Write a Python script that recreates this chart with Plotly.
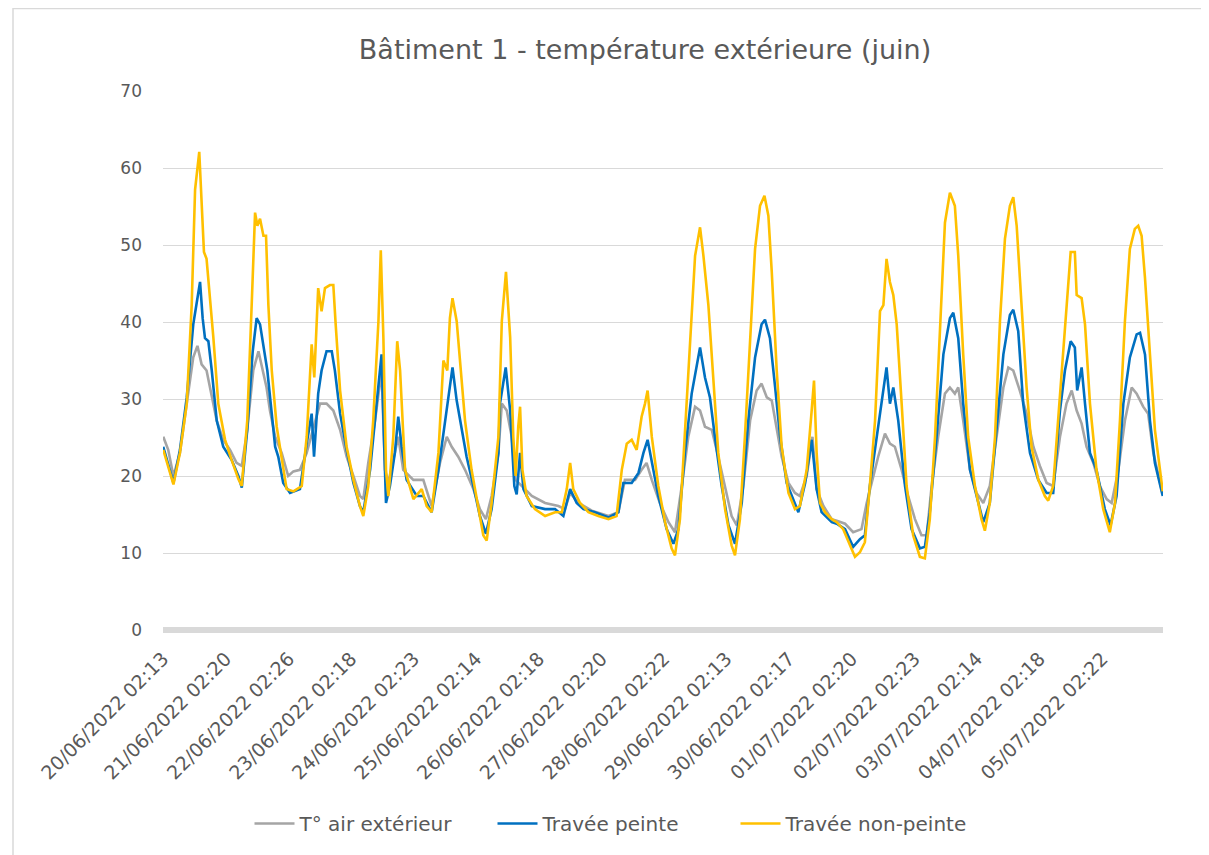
import plotly.graph_objects as go
import pandas as pd

START = "2022-06-20 02:13"

# Hours since start / temperatures
air_h = [0.1, 2.0, 4.0, 6.5, 9.1, 11.6, 13.2, 14.8, 16.7, 18.7, 20.6, 23.1, 25.7, 28.2, 30.2, 32.3, 34.6, 36.6, 37.8, 39.7,
         41.0, 43.0, 45.5, 48.0, 50.0, 52.5, 55.1, 58.3, 60.2, 62.7, 65.3, 67.9, 70.4, 73.0, 75.5, 76.8, 78.7, 81.3, 83.8, 85.1,
         86.4, 90.2, 92.1, 96.0, 99.8, 103.0, 106.2, 108.8, 110.7, 113.2, 115.8, 119.0, 121.5, 123.8, 126.0, 128.6, 129.9, 131.8, 133.7, 135.2,
         137.5, 141.4, 146.5, 151.6, 154.1, 156.1, 159.3, 164.4, 170.8, 174.6, 177.1, 181.0, 183.5, 185.4, 187.4, 190.5, 193.8, 196.3, 198.9, 201.4,
         204.0, 205.9, 207.8, 210.4, 212.9, 215.5, 218.0, 220.0, 222.5, 225.1, 227.6, 229.5, 231.5, 233.4, 235.3, 237.2, 239.8, 242.3, 244.2, 246.8,
         249.0, 250.6, 253.2, 256.4, 258.3, 261.5, 264.6, 267.8, 269.8, 271.7, 274.2, 276.8, 278.7, 280.6, 283.2, 285.7, 288.3, 290.8, 292.8, 294.7,
         297.2, 299.8, 301.7, 303.6, 304.9, 306.8, 309.4, 311.9, 314.5, 317.0, 319.6, 322.2, 324.1, 326.0, 328.5, 331.1, 333.7, 336.2, 338.8, 341.3,
         343.9, 346.4, 348.4, 350.3, 352.2, 354.1, 356.7, 359.2, 361.8, 363.7, 366.3, 368.8, 371.4, 373.3, 375.8, 377.7, 379.7, 383.3]
air_v = [25.1, 23.4, 20.0, 23.0, 29.4, 35.4, 36.9, 34.5, 33.7, 30.2, 27.2, 24.7, 23.4, 21.7, 21.3, 26.0, 33.7, 36.2, 34.5, 31.5,
         28.5, 25.1, 23.0, 20.0, 20.6, 20.8, 23.0, 27.2, 29.4, 29.4, 28.5, 26.0, 22.5, 20.0, 17.4, 17.0, 21.7, 27.2, 33.7, 20.8,
         19.1, 25.1, 20.8, 19.5, 19.5, 16.1, 21.7, 25.1, 23.8, 22.5, 20.8, 18.3, 15.7, 14.4, 17.4, 23.0, 29.4, 28.5, 25.1, 19.5,
         18.7, 17.4, 16.5, 16.1, 15.7, 17.8, 16.5, 15.5, 14.8, 15.3, 19.5, 19.5, 20.8, 21.7, 19.5, 16.5, 14.0, 12.7, 18.7, 25.1,
         29.0, 28.5, 26.4, 26.0, 22.5, 18.7, 14.8, 13.6, 18.7, 27.2, 31.1, 32.0, 30.2, 29.8, 26.0, 22.5, 19.1, 17.8, 17.4, 20.0,
         25.1, 18.3, 16.1, 14.4, 14.2, 13.8, 12.7, 13.1, 16.5, 19.1, 22.5, 25.5, 24.2, 23.8, 20.8, 17.4, 14.4, 12.3, 12.3, 18.7,
         25.1, 30.7, 31.5, 30.7, 31.5, 27.2, 20.8, 17.8, 16.5, 18.7, 25.1, 31.5, 34.1, 33.7, 31.1, 28.1, 23.8, 21.3, 19.1, 18.7,
         25.1, 29.4, 31.1, 28.5, 26.8, 23.8, 21.7, 18.7, 17.0, 16.5, 20.8, 27.2, 31.5, 30.7, 29.0, 28.1, 23.0, 17.6]

peinte_h = [0.1, 4.0, 6.5, 9.1, 11.6, 13.2, 14.2, 15.2, 16.1, 17.4, 18.7, 20.6, 23.1, 26.3, 28.9, 30.2, 32.3, 34.4, 35.9, 37.2,
            38.5, 40.0, 41.7, 43.0, 44.2, 46.1, 48.7, 52.5, 55.1, 57.0, 57.9, 59.5, 60.8, 62.7, 64.7, 65.9, 67.9, 70.4, 73.0, 75.5,
            76.8, 79.4, 81.9, 83.8, 84.7, 85.5, 87.0, 88.9, 90.2, 91.5, 93.4, 97.3, 99.8, 103.0, 105.6, 108.1, 109.8, 111.0, 112.6, 114.5,
            116.4, 119.0, 121.5, 123.8, 126.0, 128.6, 129.2, 131.4, 133.1, 134.7, 135.6, 136.9, 138.2, 141.4, 146.5, 150.3, 153.5, 156.1, 158.6, 161.2,
            165.6, 170.8, 174.6, 176.5, 179.7, 182.3, 184.2, 185.8, 187.4, 189.9, 193.1, 195.7, 197.6, 200.1, 202.7, 205.9, 207.8, 209.7, 211.6, 214.2,
            216.8, 219.3, 221.9, 224.4, 227.0, 229.5, 230.8, 232.7, 234.7, 236.6, 239.1, 241.7, 243.6, 246.2, 248.7, 250.6, 252.5, 256.4, 258.3, 261.5,
            264.6, 267.2, 269.1, 271.0, 273.6, 275.5, 277.4, 278.7, 280.0, 281.9, 284.5, 287.0, 290.2, 292.1, 294.0, 296.6, 299.2, 301.7, 303.0, 304.9,
            306.8, 309.4, 311.9, 314.5, 317.0, 319.6, 322.2, 324.7, 326.0, 327.9, 329.8, 332.4, 335.6, 338.8, 341.3, 343.9, 345.8, 348.0, 349.6, 350.5,
            352.2, 353.5, 355.4, 357.9, 361.1, 363.3, 365.6, 368.2, 370.7, 373.3, 374.6, 376.5, 378.4, 380.3, 383.3]
peinte_v = [23.8, 19.1, 23.4, 30.2, 39.7, 43.5, 45.2, 40.5, 37.9, 37.5, 33.7, 27.2, 23.8, 22.1, 20.0, 18.5, 26.0, 36.2, 40.5, 39.7,
            37.1, 33.7, 28.1, 23.8, 22.5, 19.1, 17.8, 18.3, 24.2, 28.1, 22.5, 30.7, 33.7, 36.2, 36.2, 33.7, 28.1, 23.4, 19.1, 16.1,
            15.3, 20.8, 29.4, 35.8, 25.1, 16.5, 18.7, 23.0, 27.7, 23.8, 19.5, 17.4, 17.4, 15.3, 20.8, 27.2, 31.5, 34.1, 29.8, 26.4,
            22.5, 18.7, 14.8, 12.5, 15.7, 23.0, 29.4, 34.1, 28.5, 18.7, 17.6, 23.0, 18.3, 16.1, 15.7, 15.7, 14.8, 18.3, 16.5, 15.7,
            15.3, 14.6, 15.3, 19.1, 19.1, 20.4, 23.0, 24.7, 21.7, 17.4, 13.1, 11.2, 13.1, 23.0, 30.7, 36.7, 32.8, 30.2, 25.1, 18.7,
            13.6, 11.2, 16.5, 27.2, 35.4, 39.7, 40.3, 37.9, 31.5, 25.1, 19.1, 17.0, 15.3, 19.1, 24.7, 18.3, 15.3, 14.0, 13.8, 13.1,
            10.8, 11.8, 12.3, 18.7, 25.1, 29.8, 34.1, 29.4, 31.5, 27.2, 18.7, 13.1, 10.6, 10.8, 15.3, 25.1, 35.8, 40.5, 41.2, 37.9,
            29.4, 20.8, 17.4, 14.0, 16.5, 26.0, 35.8, 40.9, 41.6, 38.8, 29.4, 23.0, 19.5, 17.8, 17.8, 28.5, 33.7, 37.5, 36.7, 31.1,
            34.1, 29.4, 23.0, 20.8, 15.7, 13.6, 17.4, 29.4, 35.4, 38.4, 38.6, 35.8, 27.2, 21.7, 17.4]

nonpeinte_h = [0.1, 4.0, 6.5, 9.1, 11.0, 12.3, 13.9, 14.8, 15.7, 16.7, 18.0, 19.3, 21.2, 23.8, 26.3, 28.9, 30.2, 32.3, 34.0, 35.3,
               36.2, 37.2, 38.5, 39.5, 40.4, 41.7, 43.6, 45.5, 47.4, 50.0, 53.2, 55.1, 57.0, 58.0, 59.5, 60.8, 62.1, 64.0, 65.3, 66.2,
               67.9, 70.4, 73.0, 75.5, 76.8, 78.7, 80.6, 82.6, 83.5, 84.5, 85.5, 86.4, 88.3, 89.8, 90.9, 92.8, 96.0, 99.2, 101.1, 103.0,
               105.6, 107.5, 109.0, 110.0, 111.0, 112.6, 113.9, 115.8, 118.3, 120.9, 122.8, 124.1, 126.0, 128.6, 129.9, 131.5, 133.1, 134.3, 135.2, 136.2,
               136.9, 137.8, 139.4, 142.6, 146.5, 150.3, 152.9, 154.8, 156.1, 157.3, 159.9, 163.1, 166.9, 170.8, 173.9, 175.9, 177.8, 179.7, 181.6, 183.5,
               184.8, 185.8, 187.4, 189.9, 192.5, 195.0, 196.3, 198.2, 200.1, 202.1, 204.0, 205.9, 207.2, 209.1, 211.0, 212.9, 215.5, 218.0, 219.3, 221.2,
               223.1, 225.1, 227.0, 228.9, 230.6, 232.1, 233.4, 235.3, 237.2, 239.8, 242.3, 244.2, 246.8, 248.7, 249.6, 250.6, 251.9, 253.8, 256.4, 258.3,
               260.8, 263.4, 265.3, 267.2, 269.1, 271.0, 273.0, 274.9, 276.2, 277.4, 278.7, 280.0, 281.3, 283.2, 285.1, 287.6, 290.2, 292.1, 294.0, 296.0,
               297.9, 299.8, 301.7, 303.6, 304.9, 306.8, 308.7, 311.3, 313.8, 315.1, 317.0, 319.0, 320.9, 322.8, 324.7, 326.0, 327.3, 329.2, 331.1, 333.0,
               335.6, 338.1, 339.4, 341.3, 343.2, 345.2, 347.1, 348.0, 349.6, 350.3, 352.2, 353.5, 355.4, 357.9, 360.5, 363.0, 365.0, 366.9, 368.8, 370.7,
               372.6, 373.9, 375.2, 376.5, 378.4, 380.3, 383.3]
nonpeinte_v = [23.4, 18.9, 23.0, 29.4, 42.2, 57.2, 62.1, 55.1, 49.1, 48.2, 43.5, 38.0, 29.4, 24.7, 22.1, 19.6, 18.7, 27.2, 42.2, 54.2,
               52.5, 53.4, 51.2, 51.2, 42.2, 33.7, 26.4, 22.5, 18.3, 18.0, 18.7, 25.1, 37.1, 32.8, 44.4, 41.4, 44.4, 44.8, 44.8, 39.7,
               31.1, 23.8, 19.5, 16.1, 14.8, 18.7, 27.2, 40.1, 49.3, 37.9, 20.8, 17.4, 25.1, 37.5, 33.7, 20.8, 17.0, 18.3, 16.1, 15.3,
               23.0, 35.0, 33.7, 40.5, 43.1, 40.1, 34.5, 27.2, 20.8, 15.7, 12.3, 11.6, 16.5, 25.1, 40.1, 46.5, 38.0, 25.1, 20.0, 26.4,
               29.0, 20.8, 17.4, 15.7, 14.8, 15.3, 15.3, 18.3, 21.7, 18.3, 16.5, 15.3, 14.8, 14.4, 14.8, 20.8, 24.2, 24.7, 23.4, 27.7,
               29.4, 31.1, 25.1, 18.7, 14.0, 10.6, 9.7, 14.4, 25.1, 37.9, 48.6, 52.3, 48.6, 42.2, 32.8, 23.0, 15.7, 11.0, 9.7, 14.4,
               25.1, 37.9, 49.5, 55.1, 56.4, 53.8, 46.5, 33.7, 23.8, 17.8, 15.7, 16.1, 20.8, 28.5, 32.4, 23.0, 16.5, 15.3, 14.4, 14.0,
               13.1, 11.0, 9.5, 10.1, 11.4, 18.7, 27.2, 41.4, 42.2, 48.2, 45.2, 43.5, 39.7, 29.4, 18.7, 12.3, 9.5, 9.3, 14.4, 25.1,
               40.1, 52.9, 56.8, 55.1, 48.6, 35.8, 25.1, 18.7, 14.4, 12.9, 16.5, 25.1, 40.1, 50.8, 55.1, 56.2, 52.5, 42.2, 31.5, 23.8,
               19.5, 17.4, 16.8, 18.7, 27.2, 35.8, 44.4, 49.1, 49.1, 43.5, 43.1, 39.7, 29.4, 20.8, 15.7, 12.7, 16.5, 27.2, 40.1, 49.5,
               52.1, 52.5, 51.2, 45.7, 35.8, 26.0, 18.0]

tick_labels = ["20/06/2022 02:13", "21/06/2022 02:20", "22/06/2022 02:26", "23/06/2022 02:18",
               "24/06/2022 02:23", "25/06/2022 02:14", "26/06/2022 02:18", "27/06/2022 02:20",
               "28/06/2022 02:22", "29/06/2022 02:13", "30/06/2022 02:17", "01/07/2022 02:20",
               "02/07/2022 02:23", "03/07/2022 02:14", "04/07/2022 02:18", "05/07/2022 02:22"]

start = pd.Timestamp(START)
def to_time(hours):
    return start + pd.to_timedelta(hours, unit="h")

tick_vals = [pd.to_datetime(t, format="%d/%m/%Y %H:%M") for t in tick_labels]

FONT = "DejaVu Sans"
TXT = "#595959"

# page body has an 8px margin: figure is sized so the plot lands where the reference has it
W, H = 1201, 847
ML, MR, MT, MB = 155, 46, 83, 221
PW, PH = W - ML - MR, H - MT - MB

fig = go.Figure()
fig.add_trace(go.Scatter(x=to_time(air_h), y=air_v, mode="lines", name="T° air extérieur",
                         line=dict(color="#A5A5A5", width=2.6)))
fig.add_trace(go.Scatter(x=to_time(peinte_h), y=peinte_v, mode="lines", name="Travée peinte",
                         line=dict(color="#0070C0", width=2.6)))
fig.add_trace(go.Scatter(x=to_time(nonpeinte_h), y=nonpeinte_v, mode="lines", name="Travée non-peinte",
                         line=dict(color="#FFC000", width=2.6)))

fig.update_layout(
    width=W, height=H, autosize=False,
    margin=dict(l=ML, r=MR, t=MT, b=MB),
    paper_bgcolor="white", plot_bgcolor="white",
    font=dict(family=FONT, color=TXT),
    title=dict(text="Bâtiment 1 - température extérieure (juin)", x=637/W, xanchor="center",
               y=1 - 42/H, yanchor="middle", font=dict(size=27, color=TXT, family=FONT)),
    legend=dict(orientation="h", x=(606 - ML) / PW, xanchor="center", y=-(821 - MT - PH) / PH,
                yanchor="middle", font=dict(size=20, color=TXT), itemwidth=40, tracegroupgap=0,
                entrywidth=188),
    showlegend=True,
    shapes=[dict(type="rect", xref="paper", yref="paper", x0=(5 - ML) / PW, x1=(1195 - ML) / PW,
                 y0=-(H + 10 - MT - PH) / PH, y1=1 + MT / PH, line=dict(color="#D9D9D9", width=1.5),
                 layer="below")],
)
fig.update_xaxes(type="date", range=[to_time(0), to_time(383.4)], tickvals=tick_vals, ticktext=tick_labels,
                 tickangle=-45, tickfont=dict(size=19, color=TXT), showgrid=False, showline=False, ticks="",
                 ticklabelstandoff=13)
fig.update_yaxes(range=[0, 70], dtick=10, tickfont=dict(size=17, color=TXT), gridcolor="#D9D9D9", gridwidth=1.3,
                 zeroline=True, zerolinecolor="#D9D9D9", zerolinewidth=6, showline=False, ticks="",
                 ticklabelstandoff=20)

fig.write_html("out.html")
